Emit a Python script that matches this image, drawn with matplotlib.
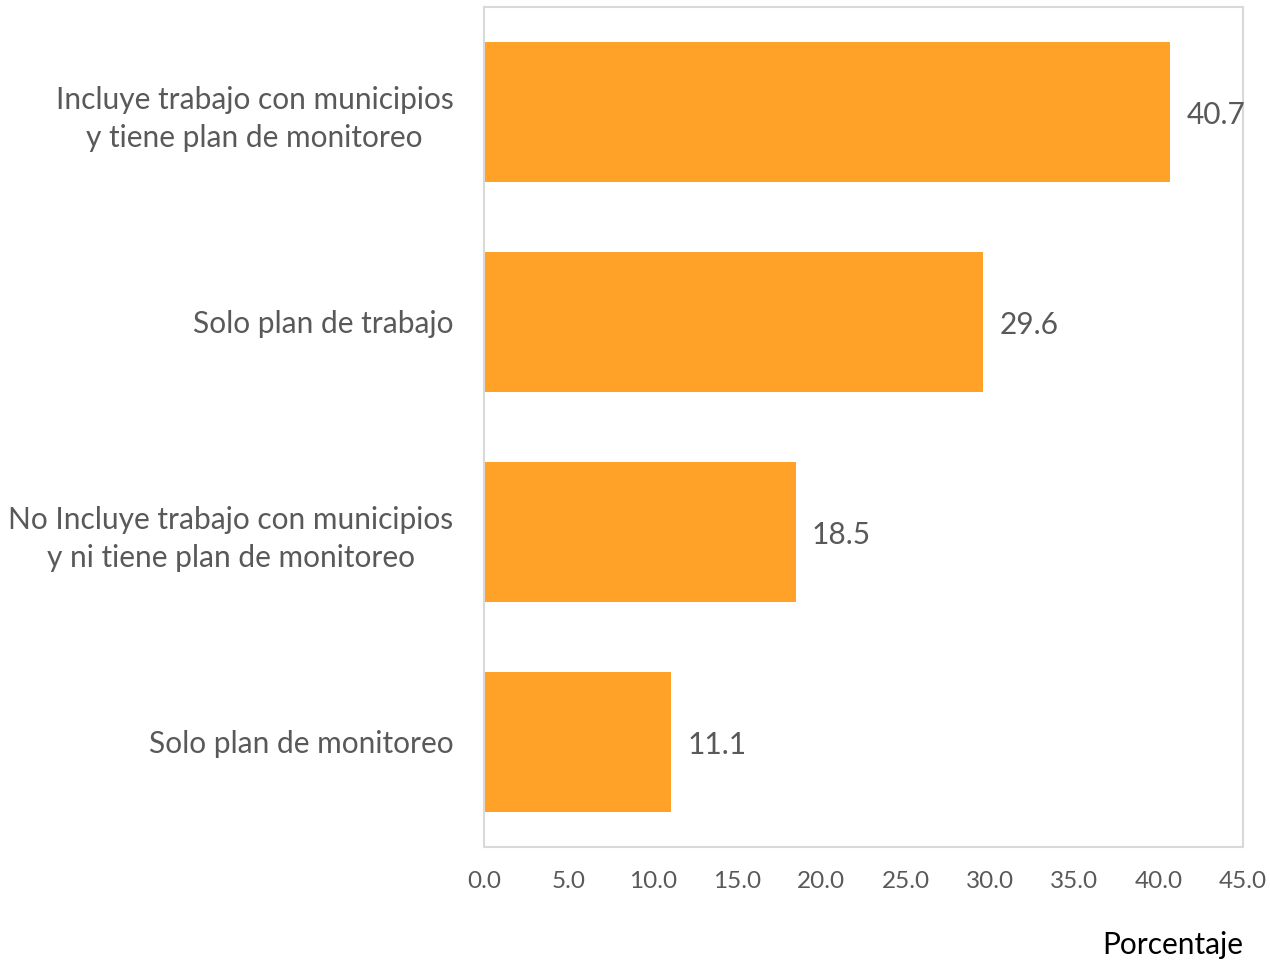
import matplotlib
matplotlib.use('Agg')
import matplotlib.pyplot as plt

# Data
categories = [
    "Incluye trabajo con municipios\ny tiene plan de monitoreo",
    "Solo plan de trabajo",
    "No Incluye trabajo con municipios\ny ni tiene plan de monitoreo",
    "Solo plan de monitoreo",
]
values = [40.7, 29.6, 18.5, 11.1]
x_ticks = [0, 5, 10, 15, 20, 25, 30, 35, 40, 45]

bar_color = '#FFA227'
text_color = '#595959'
frame_color = '#D9D9D9'

plt.rcParams['font.family'] = ['Lato', 'DejaVu Sans']

fig = plt.figure(figsize=(12.7, 9.6), dpi=100)
ax = fig.add_axes([484 / 1270, 113 / 960, 759 / 1270, 840 / 960])

pos = list(range(len(categories)))
ax.barh(pos, values, height=0.667, color=bar_color)
ax.set_ylim(len(categories) - 0.5, -0.5)
ax.set_xlim(0, 45)

ax.set_yticks(pos)
ax.set_yticklabels(categories, fontsize=21.5, color=text_color,
                   multialignment='center', linespacing=1.4)
ax.set_xticks(x_ticks)
ax.set_xticklabels([f"{t:.1f}" for t in x_ticks], fontsize=17.5, color=text_color)
ax.tick_params(axis='y', length=0, pad=22)
ax.tick_params(axis='x', length=0, pad=17)

for s in ax.spines.values():
    s.set_color(frame_color)
    s.set_linewidth(1.5)

# Value labels
for p, v in zip(pos, values):
    ax.annotate(f"{v:.1f}", xy=(v, p), xytext=(11.5, 0), textcoords='offset points',
                ha='left', va='center_baseline', fontsize=21.5, color=text_color)

fig.text(1243 / 1270, 15 / 960, "Porcentaje", ha='right', va='center', fontsize=21.5, color='black')

fig.savefig('out.png', dpi=100)
